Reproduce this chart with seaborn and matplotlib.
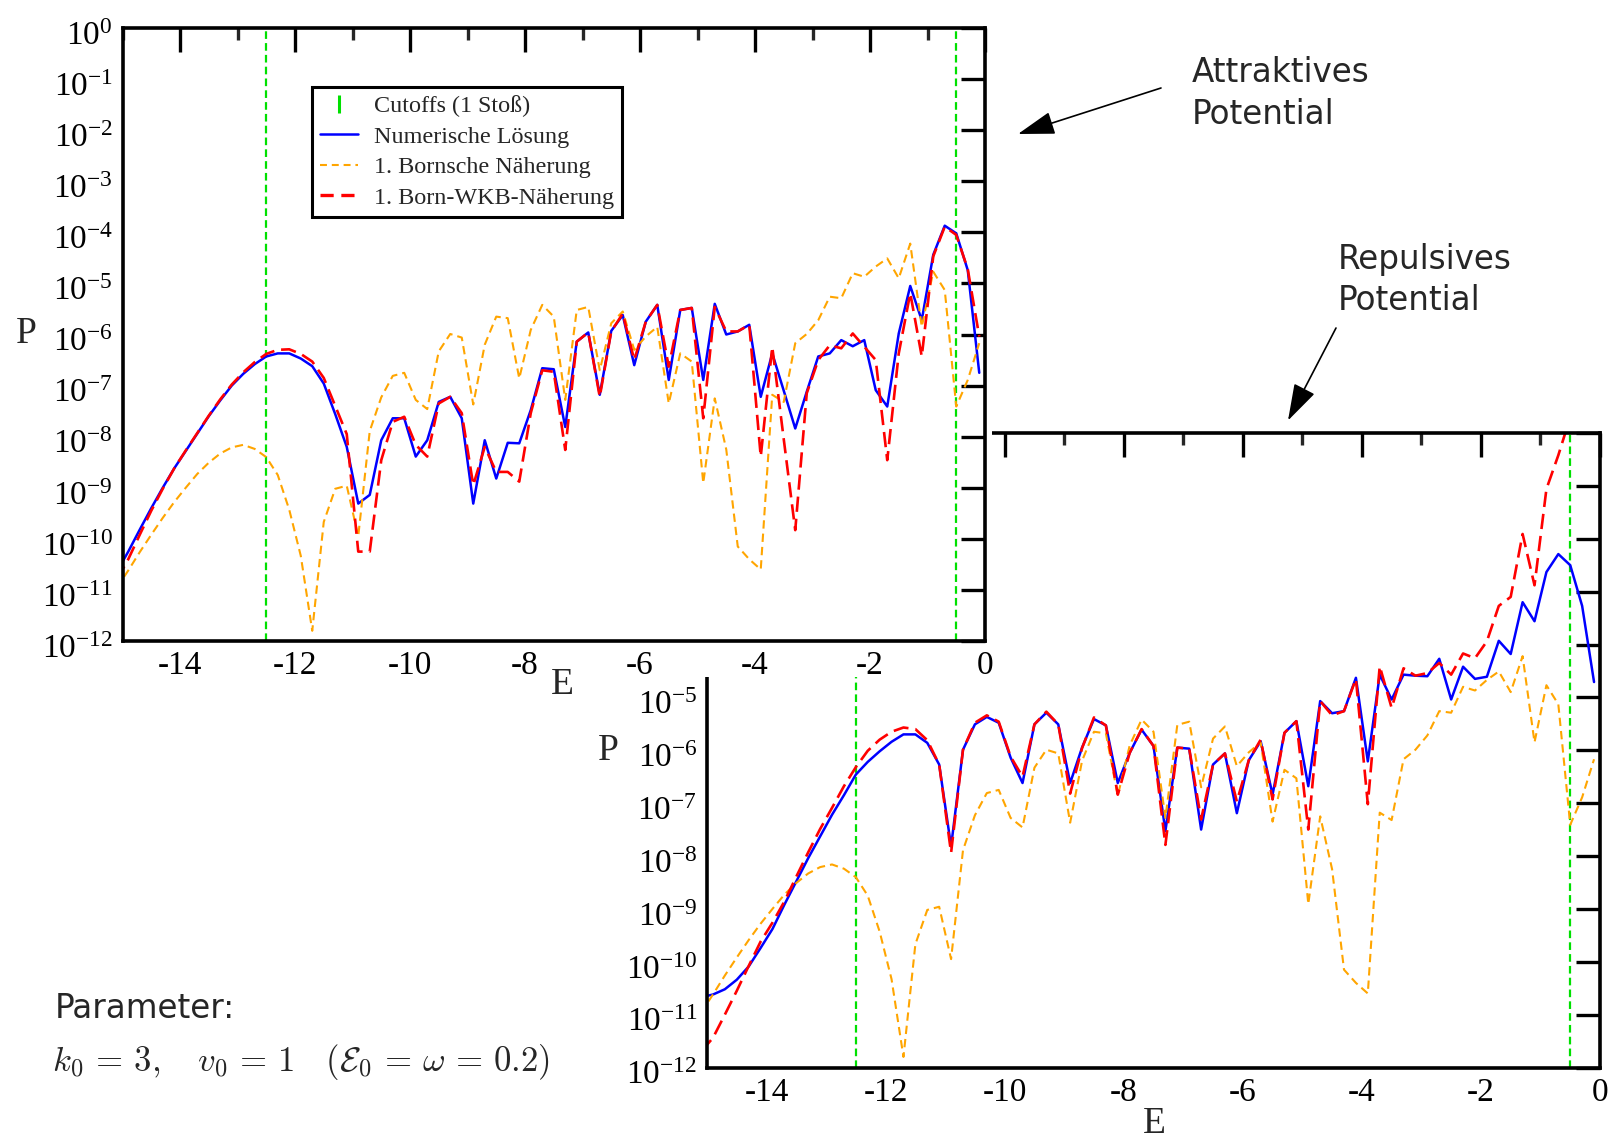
import numpy as np
import matplotlib
matplotlib.use("Agg")
import matplotlib.pyplot as plt
from matplotlib.lines import Line2D
from matplotlib.patches import Rectangle, FancyArrowPatch
from matplotlib.transforms import ScaledTranslation
from matplotlib.ticker import LogLocator, NullLocator, MultipleLocator, FuncFormatter
import seaborn as sns

# ---------------------------------------------------------------------------
# Transition probability P(E), stored as log10 P on the energy grid below
# ---------------------------------------------------------------------------
energy = np.round(np.arange(-15.1, 0.0, 0.2), 1)  # -15.1 ... -0.1

# attractive potential: numerical solution
attr_numeric = [
    -10.65,
    -10.25, -9.82, -9.40, -9.00, -8.62, -8.28, -7.94, -7.60, -7.29, -7.00,
    -6.77, -6.58, -6.43, -6.37, -6.37, -6.47, -6.62, -6.96, -7.56, -8.20,
    -9.31, -9.14, -8.07, -7.64, -7.64, -8.39, -8.07, -7.32, -7.22, -7.64,
    -9.31, -8.07, -8.82, -8.12, -8.13, -7.48, -6.66, -6.68, -7.81, -6.14,
    -5.96, -7.18, -5.93, -5.62, -6.60, -5.75, -5.42, -6.89, -5.52, -5.48,
    -6.89, -5.40, -6.00, -5.94, -5.81, -7.22, -6.37, -7.10, -7.84, -7.12,
    -6.43, -6.37, -6.11, -6.23, -6.11, -7.09, -7.41, -5.98, -5.05, -5.72,
    -4.44, -3.87, -4.02, -4.74, -6.75,
]

# attractive potential: first Born-WKB approximation
attr_born_wkb = [
    -10.80,
    -10.40, -9.92, -9.45, -9.02, -8.62, -8.27, -7.93, -7.59, -7.27, -6.98,
    -6.74, -6.54, -6.38, -6.30, -6.29, -6.38, -6.53, -6.85, -7.40, -7.95,
    -10.25, -10.25, -8.46, -7.71, -7.61, -8.16, -8.39, -7.35, -7.22, -7.54,
    -8.95, -8.20, -8.69, -8.69, -8.88, -7.54, -6.70, -6.73, -8.26, -6.14,
    -5.96, -7.22, -5.94, -5.59, -6.50, -5.75, -5.42, -6.63, -5.52, -5.48,
    -7.64, -5.46, -5.94, -5.94, -5.81, -8.39, -6.24, -8.05, -9.83, -7.15,
    -6.50, -6.21, -6.27, -5.98, -6.24, -6.50, -8.46, -6.37, -5.19, -6.43,
    -4.47, -3.89, -4.05, -4.72, -6.04,
]

# first Born approximation (identical for both signs of the potential)
born_first = [
    -10.96,
    -10.62, -10.26, -9.92, -9.59, -9.28, -9.00, -8.73, -8.51, -8.33, -8.21,
    -8.16, -8.24, -8.40, -8.75, -9.43, -10.33, -11.80, -9.67, -9.02, -8.96,
    -9.95, -7.89, -7.23, -6.81, -6.75, -7.28, -7.46, -6.33, -5.99, -6.06,
    -7.37, -6.20, -5.65, -5.68, -6.86, -5.91, -5.42, -5.65, -7.28, -5.52,
    -5.46, -6.70, -5.78, -5.55, -6.30, -6.04, -5.85, -7.35, -6.37, -6.53,
    -8.91, -7.25, -8.25, -10.15, -10.40, -10.60, -7.18, -7.32, -6.17, -5.99,
    -5.72, -5.26, -5.29, -4.80, -4.87, -4.67, -4.51, -4.90, -4.22, -5.85,
    -4.77, -5.13, -7.41, -6.89, -6.17,
]

# repulsive potential: numerical solution
rep_numeric = [
    -10.67,
    -10.62, -10.52, -10.34, -10.09, -9.74, -9.38, -8.92, -8.48, -8.04, -7.63,
    -7.22, -6.85, -6.46, -6.22, -6.02, -5.84, -5.70, -5.70, -5.86, -6.27,
    -7.82, -5.99, -5.51, -5.37, -5.48, -6.14, -6.62, -5.51, -5.29, -5.51,
    -6.62, -5.95, -5.41, -5.53, -6.62, -6.05, -5.61, -5.92, -7.53, -5.95,
    -5.97, -7.50, -6.27, -6.06, -7.19, -6.19, -5.83, -6.84, -5.67, -5.45,
    -6.68, -5.07, -5.30, -5.26, -4.63, -6.21, -4.57, -5.04, -4.57, -4.59,
    -4.60, -4.27, -5.04, -4.42, -4.65, -4.61, -3.93, -4.18, -3.20, -3.56,
    -2.63, -2.29, -2.50, -3.27, -4.71,
]

# repulsive potential: first Born-WKB approximation (leaves the range near E=-0.6)
rep_born_wkb = [
    -11.70,
    -11.44, -11.00, -10.55, -10.08, -9.62, -9.26, -8.86, -8.39, -7.93, -7.49,
    -7.09, -6.68, -6.32, -6.01, -5.80, -5.65, -5.57, -5.60, -5.81, -6.27,
    -7.94, -5.99, -5.48, -5.34, -5.46, -6.12, -6.50, -5.51, -5.27, -5.51,
    -6.82, -5.96, -5.38, -5.53, -6.84, -6.05, -5.60, -5.92, -7.79, -5.95,
    -5.97, -7.31, -6.27, -6.06, -6.97, -6.19, -5.80, -6.93, -5.67, -5.45,
    -7.50, -5.07, -5.34, -5.26, -4.65, -7.02, -4.41, -5.20, -4.45, -4.59,
    -4.54, -4.35, -4.57, -4.17, -4.26, -3.94, -3.27, -3.10, -1.91, -2.88,
    -1.06, -0.42, 0.30, np.nan, np.nan,
]

# single-collision cutoff energies
cutoffs = [-12.5, -0.5]

legend_labels = ["Cutoffs (1 Stoß)", "Numerische Lösung",
                 "1. Bornsche Näherung", "1. Born-WKB-Näherung"]

# ---------------------------------------------------------------------------
sns.set_style("white")
plt.rcParams["font.family"] = ["Liberation Serif", "DejaVu Serif"]
plt.rcParams["lines.scale_dashes"] = False
plt.rcParams["axes.unicode_minus"] = False

C_GREEN = "#00e000"
C_BLUE = "#0000ff"
C_ORANGE = "#ffa500"
C_RED = "#ff0000"
LS_ORANGE = (0, (6, 3.6))
LS_RED = (0, (11, 5))
LS_GREEN = (0, (5.5, 3))

W, H = 1616, 1139
fig = plt.figure(figsize=(W / 100, H / 100), dpi=100)


def px_axes(left, top, right, bottom):
    return fig.add_axes([left / W, 1 - bottom / H, (right - left) / W, (bottom - top) / H])


ax_rep = px_axes(707, 433, 1600, 1067.5)
ax_att = px_axes(122.5, 28, 985, 641)
ax_rep.set_zorder(0)
ax_att.set_zorder(2)

# the attractive panel sits on a white card that hides the upper left of the repulsive one
fig.add_artist(Rectangle((0, 1 - 677 / H), 992 / W, 677 / H, transform=fig.transFigure,
                         facecolor="white", edgecolor="none", zorder=1))


def decade_formatter(max_exp):
    def fmt(v, pos):
        e = int(round(np.log10(v)))
        if e > max_exp:
            return ""
        return r"$\mathdefault{10^{%d}}$" % e
    return FuncFormatter(fmt)


def draw_panel(ax, numeric, wkb, xlab_xy, ylab_xy, max_exp):
    for c in cutoffs:
        ax.axvline(c, color=C_GREEN, lw=1.6, ls=LS_GREEN, zorder=1.5)
    sns.lineplot(x=energy, y=10 ** np.asarray(numeric, float), ax=ax, color=C_BLUE,
                 lw=1.8, estimator=None, errorbar=None, legend=False, zorder=2)
    sns.lineplot(x=energy, y=10 ** np.asarray(born_first, float), ax=ax, color=C_ORANGE,
                 lw=1.5, ls=LS_ORANGE, estimator=None, errorbar=None, legend=False, zorder=2.1)
    sns.lineplot(x=energy, y=10 ** np.asarray(wkb, float), ax=ax, color=C_RED,
                 lw=1.9, ls=LS_RED, estimator=None, errorbar=None, legend=False, zorder=2.2)

    ax.set_yscale("log")
    ax.set_xlim(-15, 0)
    ax.set_ylim(1e-12, 1)
    ax.xaxis.set_major_locator(MultipleLocator(2))
    ax.xaxis.set_minor_locator(MultipleLocator(1))
    ax.xaxis.set_major_formatter(FuncFormatter(lambda v, p: "%d" % round(v)))
    ax.yaxis.set_major_locator(LogLocator(base=10, numticks=20))
    ax.yaxis.set_minor_locator(NullLocator())
    ax.yaxis.set_major_formatter(decade_formatter(max_exp))
    ax.tick_params(which="major", direction="in", length=17, width=2.4,
                   top=True, right=True, labelsize=24, pad=7, colors="black")
    ax.tick_params(which="minor", direction="in", length=8.5, width=2.4,
                   top=True, right=True)
    for s in ax.spines.values():
        s.set_linewidth(2.6)
        s.set_color("black")
    ax.set_xlabel("E", fontsize=27, va="center")
    ax.xaxis.set_label_coords(*xlab_xy)
    ax.set_ylabel("P", fontsize=27, rotation=0, va="center", ha="center")
    ax.yaxis.set_label_coords(*ylab_xy)
    # decade labels sit slightly below their tick
    shift = ScaledTranslation(0, -5 / 100, fig.dpi_scale_trans)
    for t in ax.yaxis.get_major_ticks():
        t.label1.set_transform(t.label1.get_transform() + shift)


draw_panel(ax_att, attr_numeric, attr_born_wkb, (0.5096, -0.072), (-0.112, 0.502), 0)
draw_panel(ax_rep, rep_numeric, rep_born_wkb, (0.5006, -0.088), (-0.111, 0.50), -5)

handles = [
    Line2D([], [], color=C_GREEN, marker="|", ls="None", markersize=13, markeredgewidth=2.2),
    Line2D([], [], color=C_BLUE, lw=1.8),
    Line2D([], [], color=C_ORANGE, lw=1.5, ls=(0, (5, 3.5))),
    Line2D([], [], color=C_RED, lw=2.4, ls=(0, (9.5, 5.5))),
]
leg = ax_att.legend(handles, legend_labels, loc="upper left", bbox_to_anchor=(0.2194, 0.9042),
                    fontsize=17.4, frameon=True, fancybox=False, framealpha=1,
                    edgecolor="black", borderpad=0.35, labelspacing=0.36,
                    handlelength=1.55, handletextpad=0.67, borderaxespad=0)
leg.get_frame().set_linewidth(2.2)

# annotations
SANS = ["DejaVu Sans"]
fs_note = 23.5
for txt, x, y in [("Attraktives", 1192, 73), ("Potential", 1192, 114),
                  ("Repulsives", 1338, 259), ("Potential", 1338, 300),
                  ("Parameter:", 55, 1009)]:
    fig.text(x / W, 1 - y / H, txt, family=SANS, fontsize=fs_note, va="center",
             ha="left", zorder=5)

fig.text(52 / W, 1 - 1062 / H,
         r"$k_0 \,=\, 3, \quad v_0 \,=\, 1 \quad (\mathcal{E}_0 \,=\, \omega \,=\, 0.2)$",
         math_fontfamily="cm", fontsize=25, va="center", ha="left", zorder=5)

arrow_kw = dict(arrowstyle="-|>,head_length=1.15,head_width=0.36", mutation_scale=20,
                lw=1.2, color="black", shrinkA=0, shrinkB=0)
fig.add_artist(FancyArrowPatch(
    (1161 / W, 1 - 88 / H), (1018 / W, 1 - 134 / H), transform=fig.transFigure,
    zorder=5, **arrow_kw))
fig.add_artist(FancyArrowPatch(
    (1336 / W, 1 - 328 / H), (1288 / W, 1 - 420.5 / H), transform=fig.transFigure,
    zorder=5, **arrow_kw))

fig.savefig("out.png", dpi=100)
